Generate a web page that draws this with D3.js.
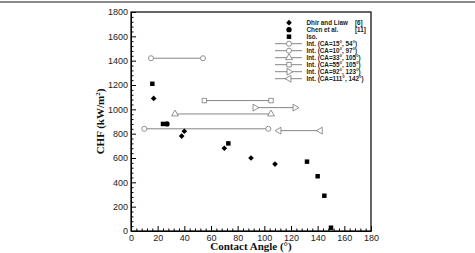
<!DOCTYPE html>
<html>
<head>
<meta charset="utf-8">
<script src="https://cdn.jsdelivr.net/npm/d3@7"></script>
<style>
  body { margin: 0; background: #fff; }
  .tick text { font-family: "Liberation Sans", Arial, sans-serif; font-size: 9px; fill: #222; }
  .axis path, .axis line { stroke: #000; }
  .legend text { font-family: "Liberation Sans", Arial, sans-serif; font-size: 6.3px; font-weight: bold; fill: #222; }
  .title { font-family: "Liberation Serif", "Times New Roman", serif; font-weight: bold; font-size: 11px; fill: #111; }
</style>
</head>
<body>
<div id="chart"></div>
<script>
// Data
const dhirAngle = [17, 38, 40, 70, 90, 108];
const dhirChf = [1090, 780, 820, 680, 600, 550];
const chenAngle = [27];
const chenChf = [880];
const isoAngle = [16, 24, 73, 132, 140, 145, 150];
const isoChf = [1210, 880, 720, 570, 450, 290, 27];

const intLabels = ["Int. (CA=15°, 54°)", "Int. (CA=10°, 97°)", "Int. (CA=33°, 105°)",
                   "Int. (CA=55°, 105°)", "Int. (CA=92°, 123°)", "Int. (CA=111°, 142°)"];
const intStart = [15, 10, 33, 55, 93, 111];
const intEnd = [54, 103, 105, 105, 123, 142];
const intChf = [1420, 840, 962, 1072, 1014, 825];
const intMarker = ["circle", "circle", "up", "square", "right", "left"];

const xTicks = [0, 20, 40, 60, 80, 100, 120, 140, 160, 180];
const yTicks = [0, 200, 400, 600, 800, 1000, 1200, 1400, 1600, 1800];

const width = 475, height = 253;
const margin = {top: 12, right: 104, bottom: 22, left: 131};
const innerWidth = width - margin.left - margin.right;
const innerHeight = height - margin.top - margin.bottom;

const svg = d3.select("#chart").append("svg")
    .attr("width", width)
    .attr("height", height);

// gray rule across the top of the figure
svg.append("rect")
    .attr("x", 0).attr("y", 1)
    .attr("width", width).attr("height", 2)
    .attr("fill", "#8a8a8a");

const chart = svg.append("g")
    .attr("transform", `translate(${margin.left}, ${margin.top})`);

const xScale = d3.scaleLinear().domain([0, 180]).range([0, innerWidth]);
const yScale = d3.scaleLinear().domain([0, 1800]).range([innerHeight, 0]);

// minor ticks (no labels)
const xMinor = d3.range(0, 181, 4).filter(v => v % 20 !== 0);
const yMinor = d3.range(0, 1801, 40).filter(v => v % 200 !== 0);

chart.append("g").attr("class", "axis")
    .attr("transform", `translate(0, ${innerHeight})`)
    .call(d3.axisBottom(xScale).tickValues(xMinor).tickSize(-2.5).tickFormat(""))
    .call(g => g.selectAll(".domain, .tick text").remove());
chart.append("g").attr("class", "axis")
    .call(d3.axisLeft(yScale).tickValues(yMinor).tickSize(-2.5).tickFormat(""))
    .call(g => g.selectAll(".domain, .tick text").remove());

// major axes, ticks pointing inward
chart.append("g").attr("class", "axis")
    .attr("transform", `translate(0, ${innerHeight})`)
    .call(d3.axisBottom(xScale).tickValues(xTicks).tickFormat(d3.format("d"))
        .tickSizeInner(-5).tickSizeOuter(0))
    .call(g => g.selectAll(".tick text").attr("dy", "0.75em").attr("y", 3));

chart.append("g").attr("class", "axis")
    .call(d3.axisLeft(yScale).tickValues(yTicks).tickFormat(d3.format("d"))
        .tickSizeInner(-5).tickSizeOuter(0))
    .call(g => g.selectAll(".tick text").attr("x", -3));

// frame
chart.append("rect")
    .attr("width", innerWidth).attr("height", innerHeight)
    .attr("fill", "none").attr("stroke", "#000").attr("stroke-width", 1.2);

// markers
const symbols = {
    diamond: d3.symbol().type(d3.symbolSquare).size(16),
    dot: d3.symbol().type(d3.symbolCircle).size(22),
    sq: d3.symbol().type(d3.symbolSquare).size(20),
    circle: d3.symbol().type(d3.symbolCircle).size(20),
    square: d3.symbol().type(d3.symbolSquare).size(20),
    up: d3.symbol().type(d3.symbolTriangle).size(20),
    right: d3.symbol().type(d3.symbolTriangle).size(20),
    left: d3.symbol().type(d3.symbolTriangle).size(20)
};
const rot = {up: 0, right: 90, left: -90, diamond: 45};

function hollow(g, type, x, y) {
    g.append("path")
        .attr("d", symbols[type]())
        .attr("transform", `translate(${x}, ${y}) rotate(${rot[type] || 0})`)
        .attr("fill", "#fff")
        .attr("stroke", "#777")
        .attr("stroke-width", 0.8);
}

// interval lines
intLabels.forEach((lab, i) => {
    const g = chart.append("g");
    g.append("line")
        .attr("x1", xScale(intStart[i])).attr("x2", xScale(intEnd[i]))
        .attr("y1", yScale(intChf[i])).attr("y2", yScale(intChf[i]))
        .attr("stroke", "#666").attr("stroke-width", 0.8);
    hollow(g, intMarker[i], xScale(intStart[i]), yScale(intChf[i]));
    hollow(g, intMarker[i], xScale(intEnd[i]), yScale(intChf[i]));
});

// filled points
function filled(xs, ys, type) {
    chart.append("g").selectAll("path")
        .data(xs.map((d, i) => [d, ys[i]]))
        .join("path")
        .attr("d", symbols[type]())
        .attr("transform", d => `translate(${xScale(d[0])}, ${yScale(d[1])}) rotate(${rot[type] || 0})`)
        .attr("fill", "#000");
}
filled(isoAngle, isoChf, "sq");
filled(dhirAngle, dhirChf, "diamond");
filled(chenAngle, chenChf, "dot");

// legend
const legend = svg.append("g").attr("class", "legend");
const lx = 289, ly0 = 22.7, dy = 7;
const filledRows = [["diamond", "Dhir and Liaw", "[6]"], ["dot", "Chen et al.", "[11]"], ["sq", "Iso.", ""]];
filledRows.forEach((r, i) => {
    const y = ly0 + i * dy;
    legend.append("path").attr("d", symbols[r[0]]())
        .attr("transform", `translate(${lx}, ${y}) rotate(${rot[r[0]] || 0})`).attr("fill", "#000");
    legend.append("text").attr("x", 306.5).attr("y", y).attr("dy", "0.35em").text(r[1]);
    if (r[2]) legend.append("text").attr("x", 355).attr("y", y).attr("dy", "0.35em").text(r[2]);
});
intLabels.forEach((lab, i) => {
    const y = ly0 + (i + 3) * dy;
    legend.append("line").attr("x1", 275).attr("x2", 302).attr("y1", y).attr("y2", y)
        .attr("stroke", "#666").attr("stroke-width", 0.8);
    hollow(legend, intMarker[i], lx, y);
    legend.append("text").attr("x", 306.5).attr("y", y).attr("dy", "0.35em").text(lab);
});

// axis titles
svg.append("text").attr("class", "title")
    .attr("x", margin.left + innerWidth / 2).attr("y", 250)
    .attr("text-anchor", "middle")
    .text("Contact Angle (°)");

svg.append("text").attr("class", "title")
    .attr("transform", `translate(104, ${margin.top + innerHeight / 2}) rotate(-90)`)
    .attr("text-anchor", "middle")
    .html('CHF (kW/m<tspan dy="-4" font-size="7px">2</tspan><tspan dy="4">)</tspan>');
</script>
</body>
</html>
